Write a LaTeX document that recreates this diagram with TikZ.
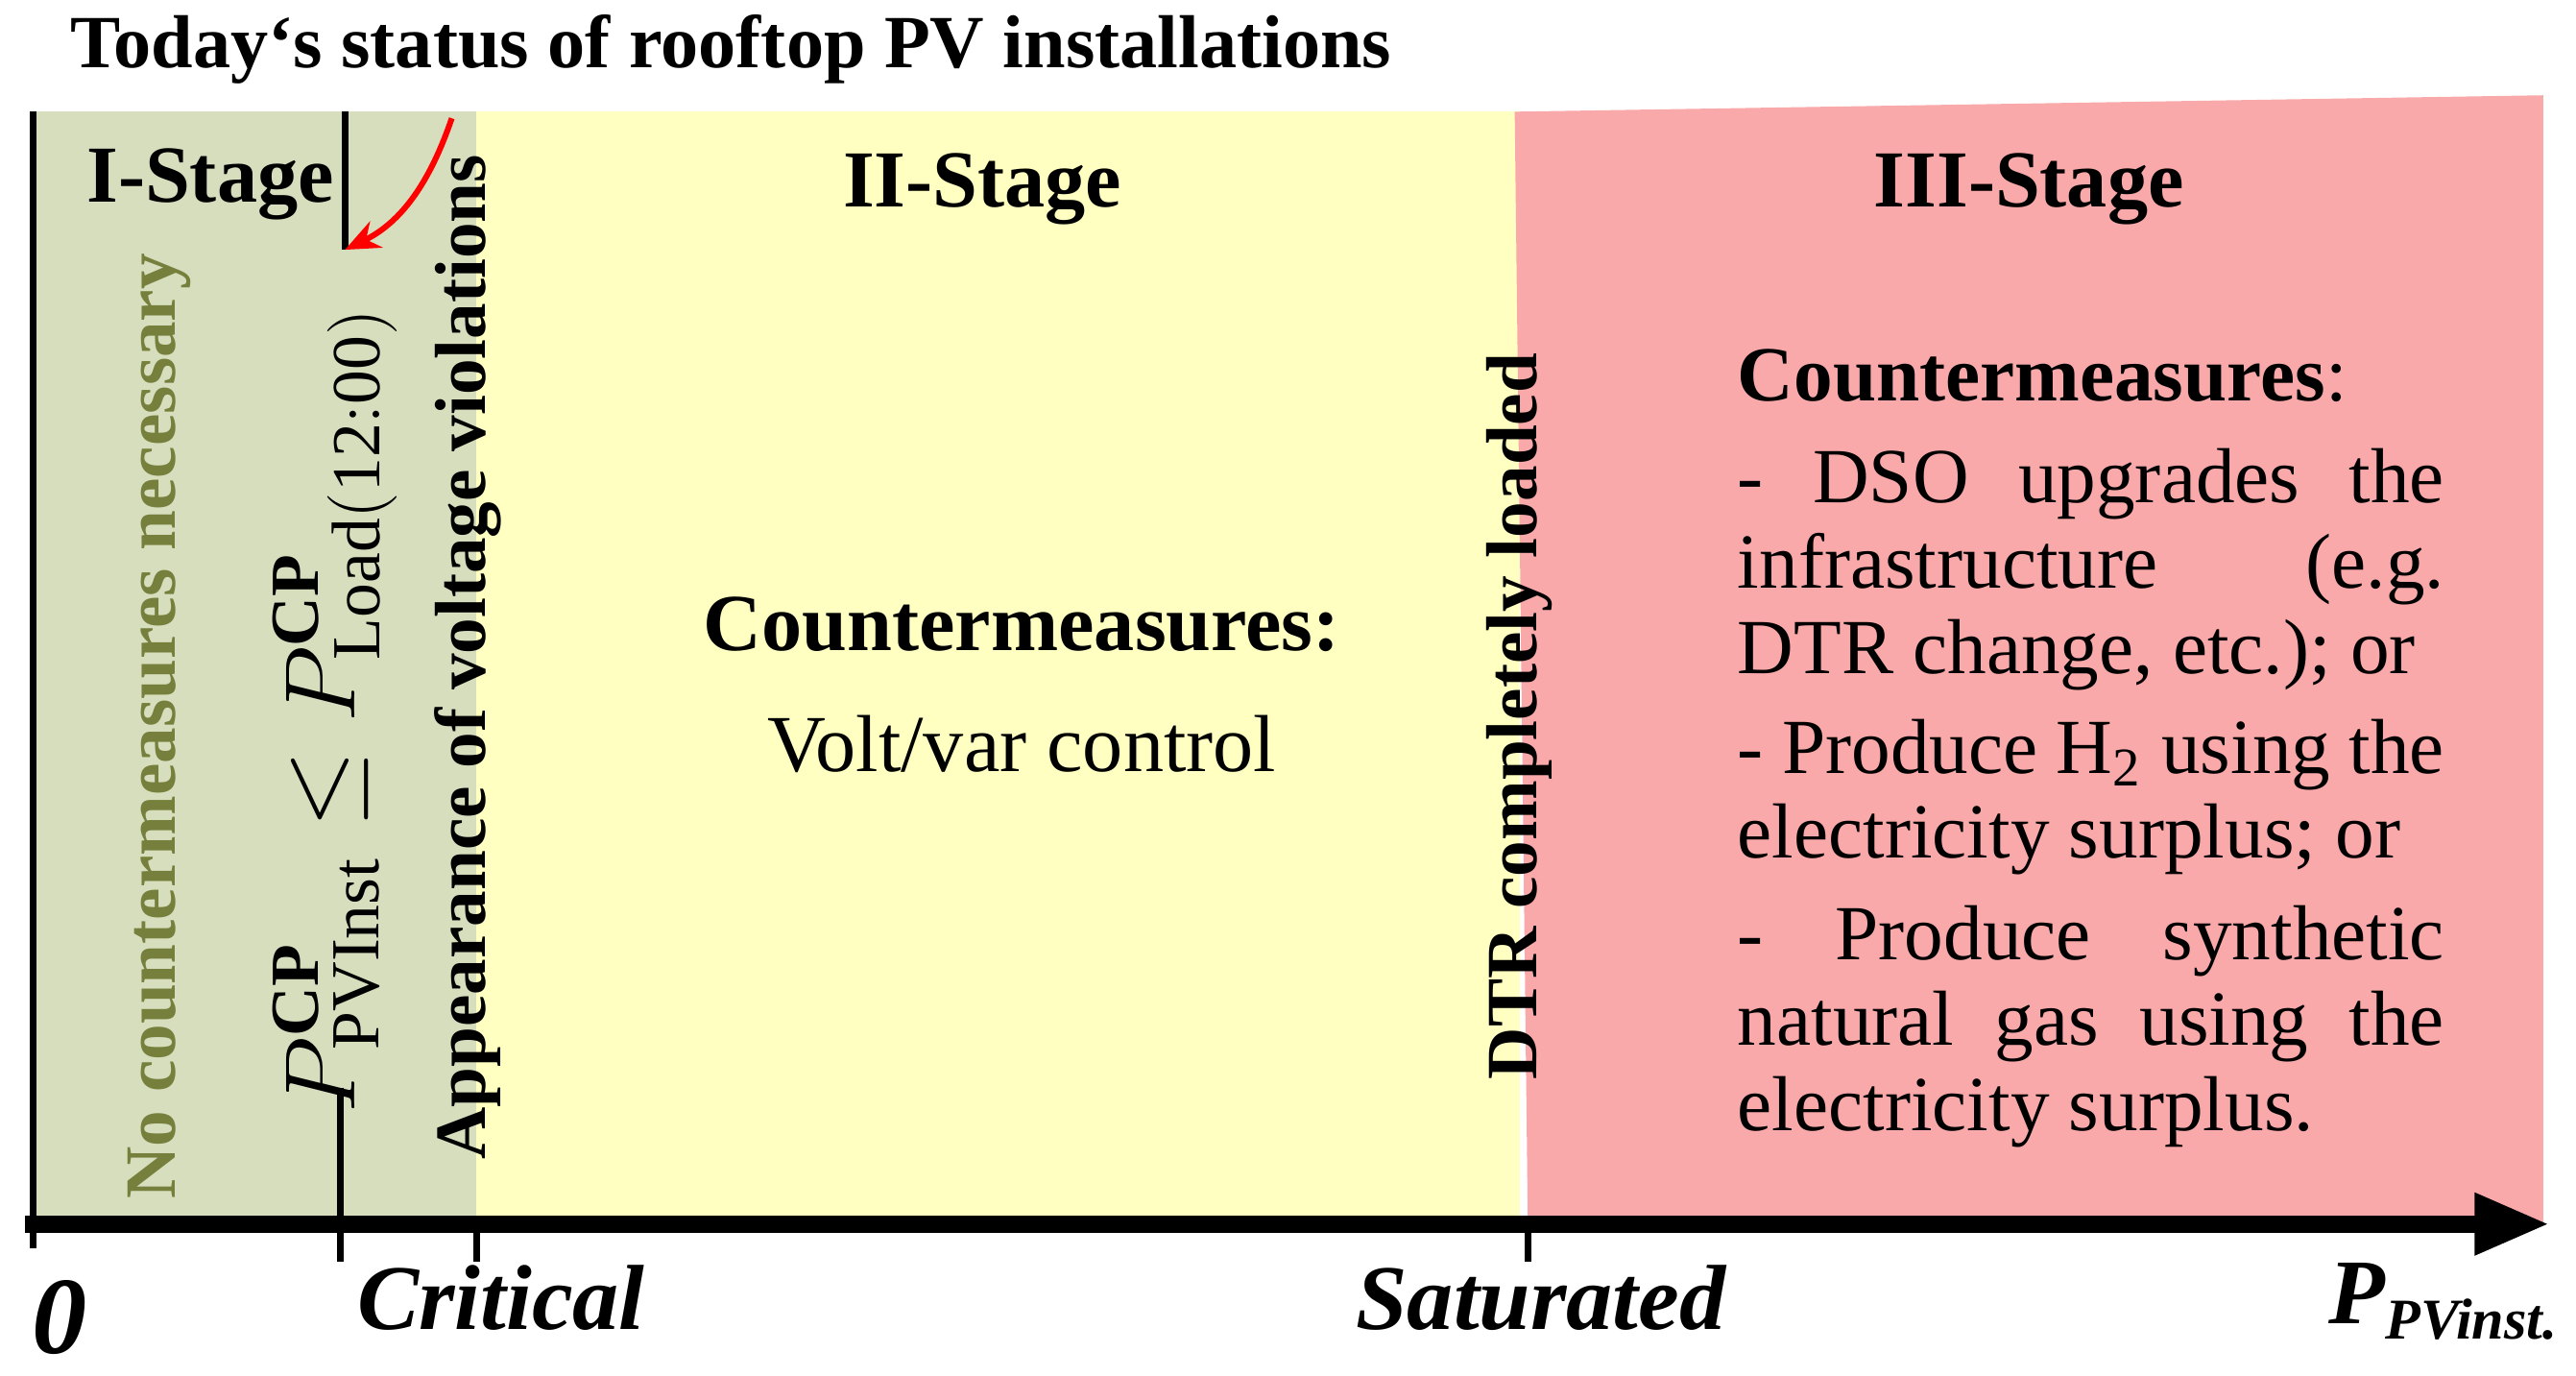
\documentclass[tikz,border=0pt]{standalone}
\usepackage{fontspec}
\setmainfont{Liberation Serif}
\usetikzlibrary{arrows.meta}
\definecolor{gre}{RGB}{214,222,190}
\definecolor{yel}{RGB}{255,255,194}
\definecolor{redf}{RGB}{249,169,169}
\definecolor{olive2}{RGB}{118,128,60}
\begin{document}
\begin{tikzpicture}[x=0.01cm,y=-0.01cm,
  lbl/.style={font=\fontsize{12.5}{15}\selectfont\bfseries, inner sep=0pt},
  rot/.style={lbl, rotate=90},
  body/.style={font=\fontsize{13.5}{15}\selectfont, inner sep=0pt, anchor=base west},
  axl/.style={font=\fontsize{16}{18}\selectfont\bfseries\itshape, inner sep=0pt}]
\useasboundingbox (0,0) rectangle (1568,837);
\fill[gre] (20,68) rectangle (290,745);
\fill[yel] (290,68) rectangle (925,745);
\fill[redf] (922,68) -- (1548,58) -- (1548,745) -- (930,745) -- cycle;
\coordinate (o) at (20,760); \coordinate (ot) at (20,68);
\draw[line width=1.2pt] (o) -- (ot);
\coordinate (a0) at (15,745); \coordinate (a1) at (1552,745);
\draw[line width=3pt,-{Triangle[length=13pt,width=10pt]}] (a0) -- (a1);
\foreach \x/\n in {207/t1,290/t2,930/t3}{
  \coordinate (\n a) at (\x,745); \coordinate (\n b) at (\x,768);
  \draw[line width=1.2pt] (\n a) -- (\n b);}
\coordinate (v1) at (210,68); \coordinate (v2) at (210,152);
\draw[line width=1.2pt] (v1) -- (v2);
\coordinate (v3) at (207,662); \coordinate (v4) at (207,745);
\draw[line width=1.2pt] (v3) -- (v4);
\node[lbl, font=\fontsize{13}{16}\selectfont\bfseries] (title) at (445,30) {Today‘s status of rooftop PV installations};
\coordinate (arS) at (275,72);
\draw[red, line width=1pt, -{Stealth[length=6pt,width=5pt]}] (arS) .. controls (262,110) and (245,135) .. (v2);
\node[lbl, font=\fontsize{14}{18}\selectfont\bfseries] (s1) at (128,112) {I-Stage};
\node[lbl, font=\fontsize{14}{18}\selectfont\bfseries] (s2) at (598,115) {II-Stage};
\node[lbl, font=\fontsize{14}{18}\selectfont\bfseries] (s3) at (1235,115) {III-Stage};
\node[rot, text=olive2] (noc) at (97,442) {No countermeasures necessary};
\node[rot] (app) at (285,400) {Appearance of voltage violations};
\node[rot] (dtr) at (925,436) {DTR completely loaded};
\node[rotate=90, inner sep=0pt, font=\fontsize{17}{20}\selectfont] (form) at (204,432)
 {$P^{\mathbf{CP}}_{\mathrm{PVInst}}\le P^{\mathbf{CP}}_{\mathrm{Load(12{:}00)}}$};
\node[lbl, font=\fontsize{14}{17}\selectfont\bfseries] (cm2) at (622,380) {Countermeasures:};
\node[lbl, font=\fontsize{14}{17}\selectfont] (vv) at (622,453) {Volt/var control};
\node[body] (r0) at (1057,244) {\textbf{Countermeasures}:};
\node[body] (r1) at (1057,306) {\makebox[4.3cm][s]{- DSO upgrades the}};
\node[body] (r2) at (1057,358) {\makebox[4.3cm][s]{infrastructure \hfill (e.g.}};
\node[body] (r3) at (1057,410) {DTR change, etc.); or};
\node[body] (r4) at (1057,471) {\makebox[4.3cm][s]{- Produce H\textsubscript{2} using the}};
\node[body] (r5) at (1057,522) {electricity surplus; or};
\node[body] (r6) at (1057,584) {\makebox[4.3cm][s]{- \hfill Produce \hfill synthetic}};
\node[body] (r7) at (1057,636) {\makebox[4.3cm][s]{natural gas using the}};
\node[body] (r8) at (1057,688) {electricity surplus.};
\node[axl, font=\fontsize{19}{20}\selectfont\bfseries\itshape] (zero) at (36,802) {0};
\node[axl] (crit) at (305,790) {Critical};
\node[axl] (sat) at (938,790) {Saturated};
\node[axl] (pp) at (1488,792) {P\textsubscript{\fontsize{10}{10}\selectfont PVinst.}};
\end{tikzpicture}
\end{document}
